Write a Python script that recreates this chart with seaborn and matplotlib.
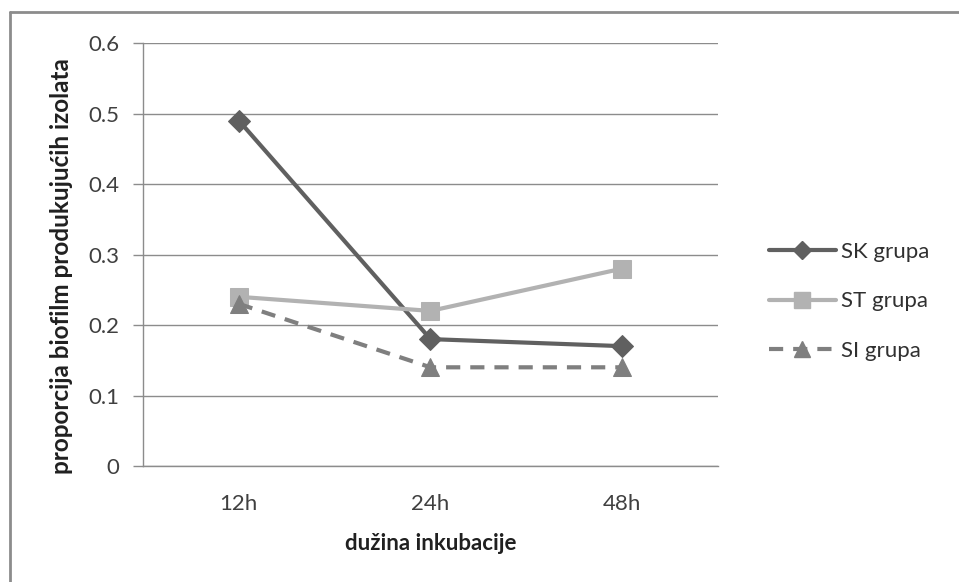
import matplotlib
matplotlib.use("Agg")
import matplotlib.pyplot as plt
import seaborn as sns
import pandas as pd
from matplotlib.lines import Line2D

# incubation time categories and group proportions
durations = ["12h", "24h", "48h"]
sk_grupa = [0.49, 0.18, 0.17]
st_grupa = [0.24, 0.22, 0.28]
si_grupa = [0.23, 0.14, 0.14]
series_names = ["SK grupa", "ST grupa", "SI grupa"]
y_ticks = [0, 0.1, 0.2, 0.3, 0.4, 0.5, 0.6]

sns.set_theme(style="white")
plt.rcParams["font.family"] = ["Lato", "DejaVu Sans"]

fig = plt.figure(figsize=(9.59, 5.82), dpi=100)
ax = fig.add_axes([0.1491, 0.1993, 0.5996, 0.7268])

styles = {
    "SK grupa": dict(color="#606060", marker="D", markersize=11, ls="-"),
    "ST grupa": dict(color="#b2b2b2", marker="s", markersize=13, ls="-"),
    "SI grupa": dict(color="#7f7f7f", marker="^", markersize=13, ls=(0, (3.4, 2.4))),
}

values = {"SK grupa": sk_grupa, "ST grupa": st_grupa, "SI grupa": si_grupa}
x_pos = list(range(len(durations)))

# series drawn in order, later ones on top
for name in series_names:
    st = styles[name]
    df = pd.DataFrame({"x": x_pos, "y": values[name]})
    sns.lineplot(data=df, x="x", y="y", ax=ax, color=st["color"], lw=3,
                 marker=st["marker"], markersize=st["markersize"],
                 markeredgecolor=st["color"], markerfacecolor=st["color"],
                 linestyle=st["ls"], legend=False)

ax.set_xlim(-0.5, 2.5)
ax.set_ylim(0, 0.6)
ax.set_yticks(y_ticks)
ax.set_yticklabels(["0" if v == 0 else f"{v:.1f}" for v in y_ticks])
ax.set_xticks(x_pos)
ax.set_xticklabels(durations)
ax.yaxis.grid(True, color="#8c8c8c", lw=1)
ax.xaxis.grid(False)
for side in ["top", "right"]:
    ax.spines[side].set_visible(False)
ax.spines["left"].set_color("#8c8c8c")
ax.spines["bottom"].set_color("#8c8c8c")
ax.spines["left"].set_linewidth(1)
ax.spines["bottom"].set_linewidth(1)
ax.tick_params(axis="y", which="major", left=True, length=7, width=1,
               color="#8c8c8c", labelsize=16, labelcolor="#404040", pad=10)
ax.tick_params(axis="x", which="major", bottom=False, labelsize=16,
               labelcolor="#404040", pad=14)

ax.set_xlabel("dužina inkubacije", fontsize=16, fontweight="bold",
              color="#202020", labelpad=14)
ax.set_ylabel("proporcija biofilm produkujućih izolata", fontsize=17.5,
              fontweight="bold", color="#202020")
ax.yaxis.set_label_coords(-0.122, 0.473)

handles = [Line2D([0], [0], color=styles[n]["color"], lw=3,
                  marker=styles[n]["marker"],
                  markersize=styles[n]["markersize"] * 0.85,
                  linestyle=styles[n]["ls"]) for n in series_names]
leg = fig.legend(handles, series_names, loc="center left",
                 bbox_to_anchor=(0.781, 0.482), frameon=False, fontsize=16,
                 handlelength=3.0, labelspacing=1.33, handletextpad=0.25)
for t in leg.get_texts():
    t.set_color("#303030")

# outer chart frame
fig.add_artist(Line2D([10 / 959, 10 / 959], [0, 1 - 12 / 582],
                      transform=fig.transFigure, color="#8c8c8c", lw=2))
fig.add_artist(Line2D([10 / 959, 1], [1 - 12 / 582, 1 - 12 / 582],
                      transform=fig.transFigure, color="#8c8c8c", lw=2))

fig.savefig("out.png", dpi=100, facecolor="white")
